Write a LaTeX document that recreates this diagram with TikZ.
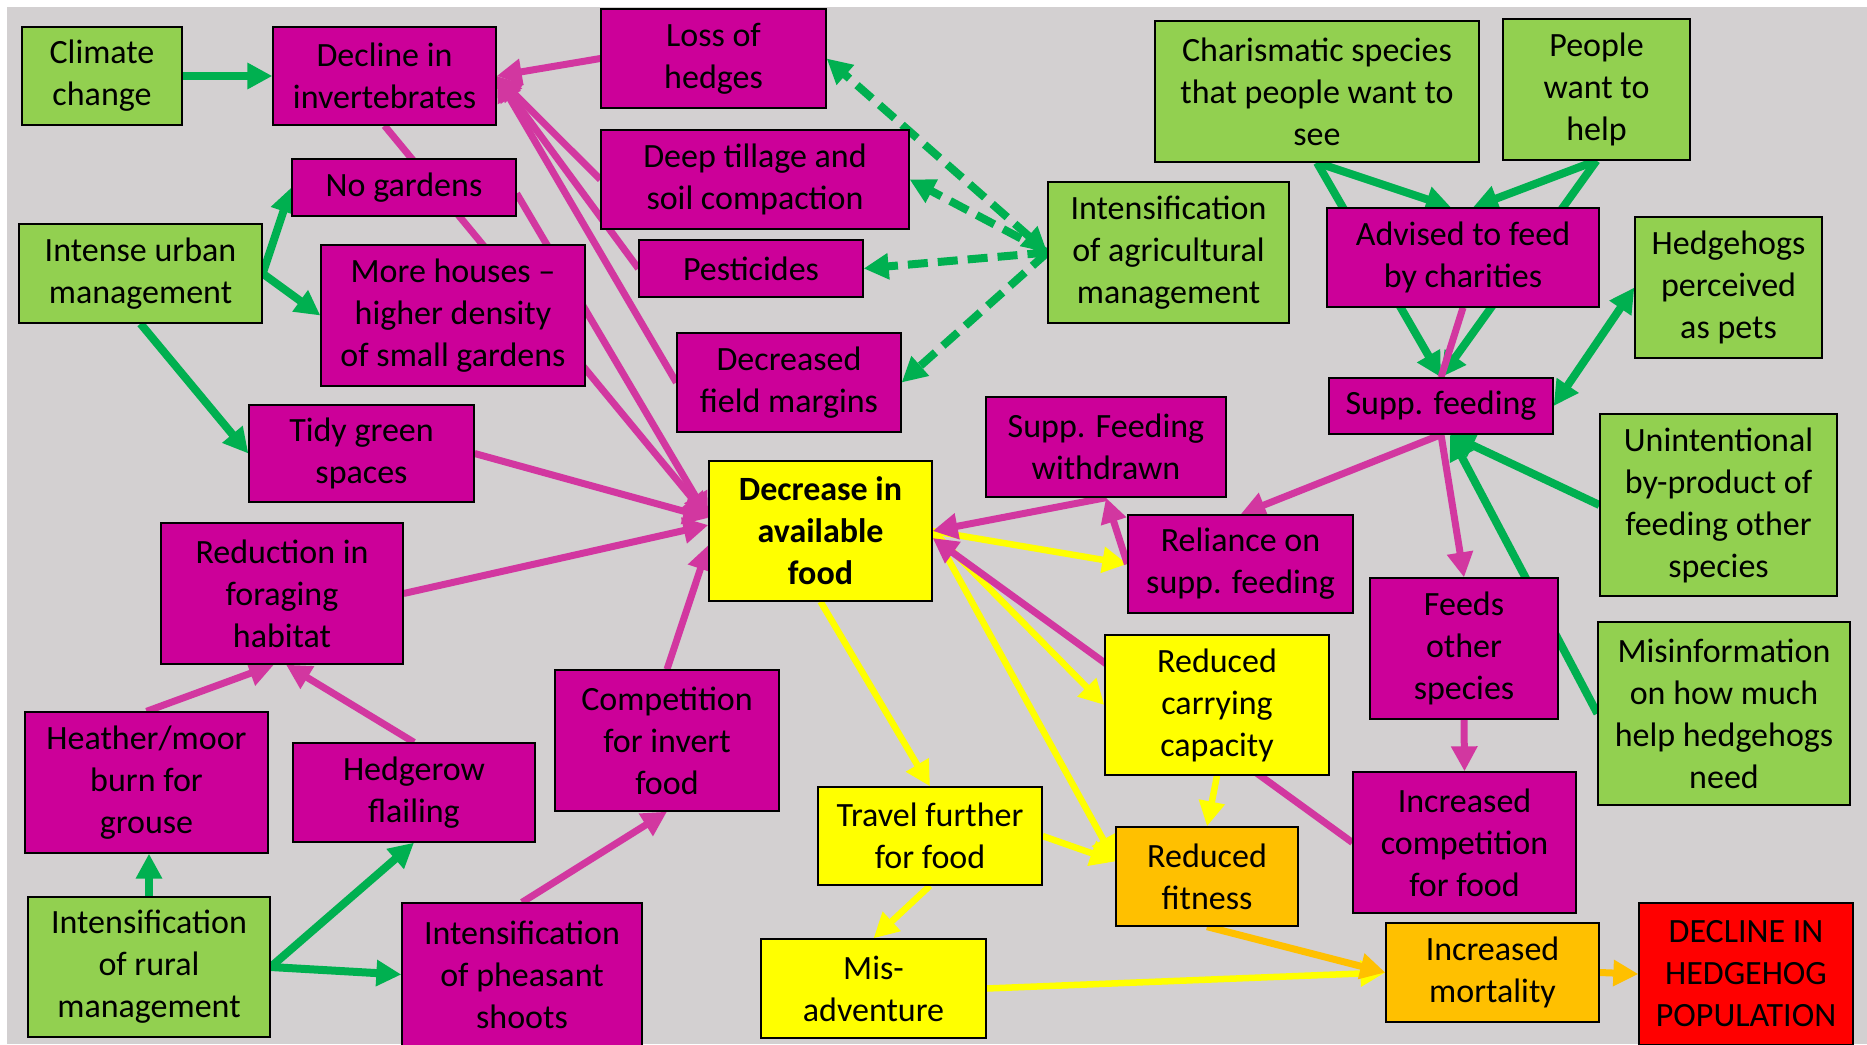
\documentclass[tikz,border=0pt]{standalone}
\usepackage{fontspec}
\setmainfont{Carlito}
\usetikzlibrary{arrows.meta,calc}

\definecolor{bggray}{RGB}{211,208,209}
\definecolor{bgreen}{RGB}{146,208,80}
\definecolor{bmag}{RGB}{204,0,153}
\definecolor{byel}{RGB}{255,255,0}
\definecolor{bora}{RGB}{255,192,0}
\definecolor{bred}{RGB}{255,0,0}
\definecolor{agreen}{RGB}{0,176,80}
\definecolor{amag}{RGB}{210,55,160}
\definecolor{ayel}{RGB}{255,255,0}
\definecolor{aora}{RGB}{255,192,0}

\pgfdeclarelayer{back}
\pgfdeclarelayer{links}
\pgfsetlayers{back,links,main}

\tikzset{
  box/.style={draw=black, line width=1.3pt, align=center, inner sep=0pt,
    font=\fontsize{34}{42}\selectfont, text=black},
  gbox/.style={box, fill=bgreen},
  mbox/.style={box, fill=bmag},
  ybox/.style={box, fill=byel},
  obox/.style={box, fill=bora},
  rbox/.style={box, fill=bred},
  tip/.tip={Triangle[length=25pt,width=25pt]},
  garr/.style={draw=agreen, line width=8pt, -tip},
  gdash/.style={draw=agreen, line width=8pt, dash pattern=on 20pt off 10pt, -tip},
  marr/.style={draw=amag, line width=7pt, -tip},
  mline/.style={draw=amag, line width=7pt},
  yarr/.style={draw=ayel, line width=6.5pt, -tip},
  oarr/.style={draw=aora, line width=7pt, -tip},
}

\begin{document}
\begin{tikzpicture}[x=1pt,y=-1pt]
\useasboundingbox (0,0) rectangle (1867,1044);
\begin{pgfonlayer}{back}
  \fill[white] (0,0) rectangle (1867,1044);
  \fill[bggray] (7,7) rectangle (1867,1044);
\end{pgfonlayer}

% ---- boxes ----
\node[gbox,minimum width=160,minimum height=98] (climate) at (102,76) {Climate\\change};
\node[mbox,minimum width=223,minimum height=98] (declineinv) at (384.5,76) {Decline in\\invertebrates};
\node[mbox,minimum width=225,minimum height=99] (hedges) at (713.5,58.5) {Loss of\\hedges};
\node[mbox,minimum width=308,minimum height=99] (tillage) at (755,179.5) {Deep tillage and\\soil compaction};
\node[mbox,minimum width=224,minimum height=57] (pesticides) at (751,268.5) {Pesticides};
\node[mbox,minimum width=224,minimum height=99] (margins) at (789,382.5) {Decreased\\field margins};
\node[gbox,minimum width=241,minimum height=141] (agri) at (1168.5,252.5) {Intensification\\of agricultural\\management};
\node[mbox,minimum width=224,minimum height=57] (nogardens) at (404,187.5) {No gardens};
\node[gbox,minimum width=243,minimum height=99] (urban) at (140.5,273.5) {Intense urban\\management};
\node[mbox,minimum width=264,minimum height=141] (houses) at (453,315.5) {More houses --\\higher density\\of small gardens};
\node[mbox,minimum width=225,minimum height=97] (tidy) at (361.5,453.5) {Tidy green\\spaces};
\node[ybox,minimum width=223,minimum height=140,font=\fontsize{34}{42}\selectfont\bfseries] (food) at (820.5,531) {Decrease in\\available\\food};
\node[mbox,minimum width=242,minimum height=141] (foraging) at (282,593.5) {Reduction in\\foraging\\habitat};
\node[mbox,minimum width=243,minimum height=141] (heather) at (146.5,782.5) {Heather/moor\\burn for\\grouse};
\node[mbox,minimum width=242,minimum height=99] (flailing) at (414,792.5) {Hedgerow\\flailing};
\node[mbox,minimum width=224,minimum height=141] (competition) at (667,740.5) {Competition\\for invert\\food};
\node[gbox,minimum width=242,minimum height=140] (rural) at (149,967) {Intensification\\of rural\\management};
\node[mbox,minimum width=240,minimum height=143] (pheasant) at (522,974.5) {Intensification\\of pheasant\\shoots};
\node[ybox,minimum width=224,minimum height=98] (travel) at (930,836) {Travel further\\for food};
\node[ybox,minimum width=225,minimum height=99] (misadv) at (873.5,988.5) {Mis-\\adventure};
\node[gbox,minimum width=324,minimum height=141] (charismatic) at (1317,91.5) {Charismatic species\\that people want to\\see};
\node[gbox,minimum width=187,minimum height=141] (people) at (1596.5,89.5) {People\\want to\\help};
\node[mbox,minimum width=272,minimum height=99] (advised) at (1463,257.5) {Advised to feed\\by charities};
\node[gbox,minimum width=187,minimum height=141] (pets) at (1728.5,287.5) {Hedgehogs\\perceived\\as pets};
\node[mbox,minimum width=224,minimum height=56] (supp) at (1441,406) {Supp. feeding};
\node[mbox,minimum width=240,minimum height=100] (withdrawn) at (1106,447) {Supp. Feeding\\withdrawn};
\node[mbox,minimum width=225,minimum height=98] (reliance) at (1240.5,564) {Reliance on\\supp. feeding};
\node[gbox,minimum width=237,minimum height=182] (unintentional) at (1718.5,505) {Unintentional\\by-product of\\feeding other\\species};
\node[mbox,minimum width=188,minimum height=141] (feeds) at (1464,648.5) {Feeds\\other\\species};
\node[gbox,minimum width=252,minimum height=183] (misinfo) at (1724,713.5) {Misinformation\\on how much\\help hedgehogs\\need};
\node[ybox,minimum width=224,minimum height=140] (carrying) at (1217,705) {Reduced\\carrying\\capacity};
\node[mbox,minimum width=223,minimum height=141] (incompetition) at (1464.5,842.5) {Increased\\competition\\for food};
\node[obox,minimum width=182,minimum height=99] (fitness) at (1207,876.5) {Reduced\\fitness};
\node[obox,minimum width=213,minimum height=99] (mortality) at (1492.5,972.5) {Increased\\mortality};
\node[rbox,minimum width=214,minimum height=142] (decline) at (1746,974) {DECLINE IN\\HEDGEHOG\\POPULATION};

% ---- connectors ----
\begin{pgfonlayer}{links}
  % green: drivers
  \draw[garr] (climate.east) -- (declineinv.west);
  \draw[garr] (urban.east) -- (nogardens.west);
  \draw[garr] (urban.east) -- (houses.west);
  \draw[garr] (urban.south) -- (tidy.west);
  \draw[garr] (rural.north) -- (rural.north |- heather.south);
  \draw[garr] (rural.east) -- (flailing.south);
  \draw[garr] (rural.east) -- (pheasant.west);
  \draw[gdash, tip-tip] (agri.west) -- (hedges.east);
  \draw[gdash] (agri.west) -- (tillage.east);
  \draw[gdash] (agri.west) -- (pesticides.east);
  \draw[gdash] (agri.west) -- (margins.east);

  % magenta: invertebrate and habitat losses
  \draw[marr] (hedges.west) -- (declineinv.east);
  \draw[marr] (tillage.west) -- (declineinv.east);
  \draw[marr] (pesticides.west) -- (declineinv.east);
  \draw[marr] (margins.west) -- (declineinv.east);
  \draw[marr] (declineinv.south) -- ([yshift=13pt]food.west);
  \draw[marr] ([yshift=-6pt]nogardens.east) -- ([yshift=13pt]food.west);
  \draw[marr] (tidy.east) -- ([yshift=13pt]food.west);
  \draw[marr] (foraging.east) -- ([yshift=6pt]food.west);
  \draw[marr] (competition.north) -- ([yshift=-14pt]food.west);
  \draw[marr] (heather.north) -- ([xshift=-8pt]foraging.south);
  \draw[marr] (flailing.north) -- ([xshift=4pt]foraging.south);
  \draw[marr] (pheasant.north) -- (competition.south);

  % yellow and orange: consequences
  \draw[yarr] (food.east) -- (reliance.west);
  \draw[yarr] (food.east) -- (carrying.west);
  \draw[yarr] (food.east) -- ([yshift=15pt]fitness.west);
  \draw[yarr] (food.south) -- (travel.north);
  \draw[yarr] (travel.east) -- ([yshift=15pt]fitness.west);
  \draw[yarr] (travel.south) -- (misadv.north);
  \draw[yarr] (misadv.east) -- (mortality.west);
  \draw[yarr] (carrying.south) -- (fitness.north);
  \draw[oarr] (fitness.south) -- (mortality.west);
  \draw[oarr] (mortality.east) -- (decline.west);

  % supplementary feeding
  \draw[marr] (withdrawn.south) -- (food.east);
  \draw[marr] (reliance.west) -- (withdrawn.south);
  \draw[marr] (supp.south) -- (reliance.north);
  \draw[marr] (supp.south) -- (feeds.north);
  \draw[marr] (feeds.south) -- (incompetition.north);
  \draw[marr] (incompetition.west) -- ([yshift=-7pt]food.east);
  \draw[garr] (charismatic.south) -- (supp.north);
  \draw[garr] (people.south) -- (supp.north);
  \draw[mline] (advised.south) -- (supp.north);
  \draw[garr] (charismatic.south) -- ([xshift=-12pt]advised.north);
  \draw[garr] (people.south) -- ([xshift=10pt]advised.north);
  \draw[garr, tip-tip] (pets.west) -- (supp.east);
  \draw[garr] (unintentional.west) -- ([xshift=9pt]supp.south);
  \draw[garr] (misinfo.west) -- ([xshift=9pt]supp.south);
\end{pgfonlayer}
\end{tikzpicture}
\end{document}
